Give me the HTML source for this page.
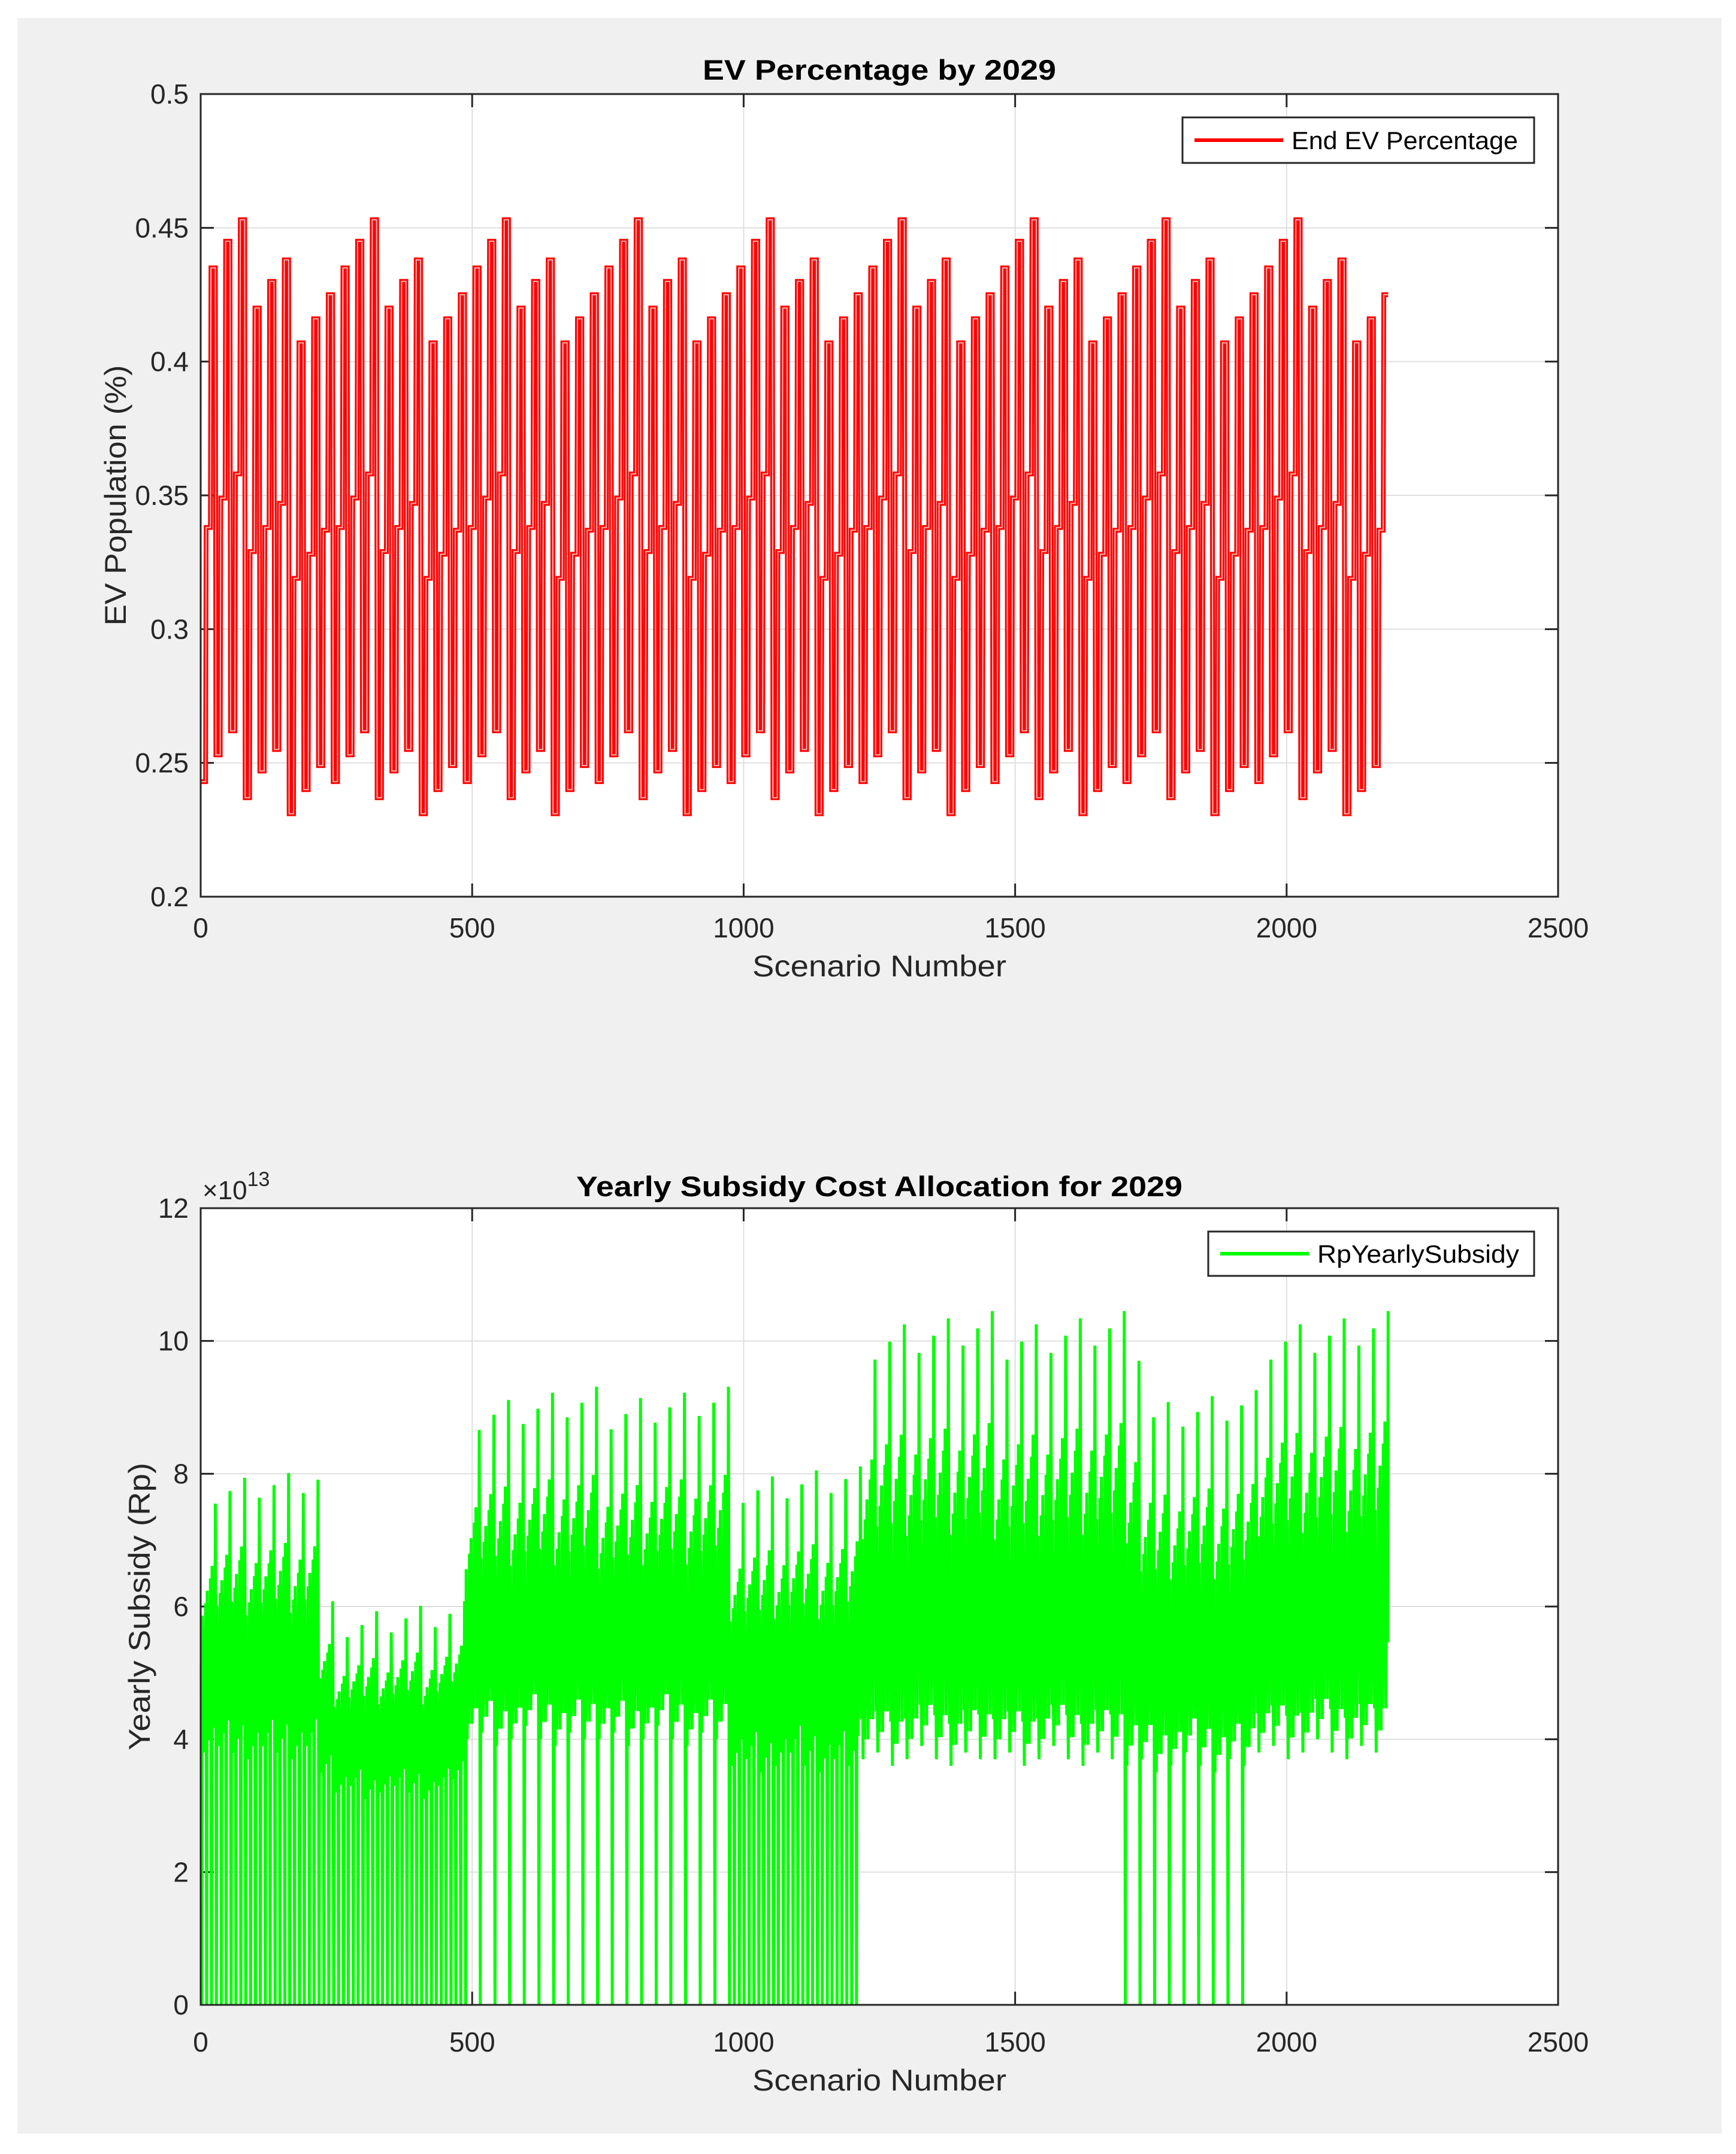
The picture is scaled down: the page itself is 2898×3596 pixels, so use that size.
<!DOCTYPE html>
<html><head><meta charset="utf-8"><style>
html,body{margin:0;padding:0;background:#fff;}
svg{display:block;font-family:"Liberation Sans",Arial,sans-serif;}
</style></head><body>
<svg id="fig" width="2898" height="3596" viewBox="0 0 2898 3596" xmlns="http://www.w3.org/2000/svg">
<rect x="0" y="0" width="2898" height="3596" fill="#ffffff"/>
<rect x="29" y="30" width="2845" height="3532" fill="#f0f0f0"/>
<g id="top"></g>
<g id="bot"></g>
</svg>
<script>
// ---- EV percentage data (one 243-scenario cycle, 27 step levels of 9 scenarios) ----
const evLevels = [0.243,0.338,0.435, 0.253,0.349,0.445, 0.262,0.358,0.453,
                  0.237,0.329,0.420, 0.247,0.338,0.430, 0.255,0.347,0.438,
                  0.231,0.319,0.407, 0.240,0.328,0.416, 0.249,0.337,0.425];
const scenarioCount = 2187;
const xTicks = [0,500,1000,1500,2000,2500];
const evTicks = [0.2,0.25,0.3,0.35,0.4,0.45,0.5];
const evTickLabels = ["0.2","0.25","0.3","0.35","0.4","0.45","0.5"];
// ---- Subsidy data per 27-scenario block (units of 1e13 Rp) ----
const subsidyPeaks = [7.55,7.74,7.94,7.64,7.83,8.01,7.71,7.91,
  6.08,5.54,5.72,5.93,5.61,5.82,6.01,5.69,5.89,6.08,
  8.66,8.89,9.11,8.75,8.98,
  9.22,8.85,9.07,9.31,8.67,8.90,9.14,8.77,9.00,9.22,8.87,9.07,9.31,
  7.56,7.75,7.96,7.63,7.84,8.05,7.71,7.92,8.11,
  9.72,9.99,10.25,9.82,10.08,10.34,9.93,10.19,10.45,
  9.72,9.99,10.25,9.82,10.08,10.34,9.93,10.19,10.45,
  9.70,8.85,9.08,8.71,8.93,9.17,8.80,9.03,9.26,
  9.72,9.99,10.25,9.82,10.08,10.34,9.93,10.19,10.45];
const subsidyLows = [3.8,3.9,3.8,3.7,3.9,3.8,3.7,3.9,3.5,
  3.2,3.3,3.1,3.2,3.3,3.2,3.1,3.3,3.4,
  4.0,4.1,3.9,4.0,4.2,4.0,3.9,4.1,4.0,4.0,4.1,3.9,4.0,4.2,4.0,3.9,4.1,4.0,
  3.6,3.7,3.5,3.6,3.8,3.6,3.5,3.7,3.6,
  3.7,3.8,3.6,3.7,3.9,3.7,3.6,3.8,3.7, 3.7,3.8,3.6,3.7,3.9,3.7,3.6,3.8,3.7,
  3.6,3.7,3.5,3.6,3.8,3.6,3.5,3.7,3.6,
  3.8,3.9,3.7,3.8,4.0,3.8,3.7,3.9,3.8];
const subsidyZeroDips = [3,3,3,3,3,3,3,3,3, 3,3,3,3,3,3,3,3,3,
  1,1,1,1,1,1,1,1,1, 1,1,1,1,1,1,1,1,1,
  3,3,3,3,3,3,3,3,3,
  0,0,0,0,0,0,0,0,0, 0,0,0,0,0,0,0,0,0,
  1,1,1,1,1,1,1,1,1,
  0,0,0,0,0,0,0,0,0];
const subTicks = [0,2,4,6,8,10,12];
const subTickLabels = ["0","2","4","6","8","10","12"];

const NS="http://www.w3.org/2000/svg";
function mk(tag,attrs,parent){const e=document.createElementNS(NS,tag);for(const k in attrs)e.setAttribute(k,attrs[k]);if(parent)parent.appendChild(e);return e;}

function buildAxes(g,box,yMin,yMax,yTicks,yLabels,title,titleW,titleY,ylab,ylabX,ylabW,xlabY,tickY){
  const X=v=>box.l+(v-0)/(2500)*(box.r-box.l);
  const Y=v=>box.b-(v-yMin)/(yMax-yMin)*(box.b-box.t);
  const bg=mk('rect',{x:box.l,y:box.t,width:box.r-box.l,height:box.b-box.t,fill:'#fff'},g);
  
  
  const grid=mk('g',{stroke:'#dfdfdf','stroke-width':2},g);
  
  
  xTicks.forEach(v=>{mk('line',{x1:X(v),x2:X(v),y1:box.t,y2:box.b},grid);});
  yTicks.forEach(v=>{mk('line',{x1:box.l,x2:box.r,y1:Y(v),y2:Y(v)},grid);});
  const tk=mk('g',{stroke:'#262626','stroke-width':3},g);
  xTicks.forEach(v=>{mk('line',{x1:X(v),x2:X(v),y1:box.b,y2:box.b-22},tk);mk('line',{x1:X(v),x2:X(v),y1:box.t,y2:box.t+22},tk);});
  yTicks.forEach(v=>{mk('line',{x1:box.l,x2:box.l+22,y1:Y(v),y2:Y(v)},tk);mk('line',{x1:box.r,x2:box.r-22,y1:Y(v),y2:Y(v)},tk);});
  xTicks.forEach(v=>{const t=mk('text',{x:X(v),y:tickY,'text-anchor':'middle','font-size':46,fill:'#262626'},g);t.textContent=String(v);
    
    });
  yTicks.forEach((v,i)=>{const t=mk('text',{x:box.l-20,y:Y(v)+16,'text-anchor':'end','font-size':46,fill:'#262626'},g);t.textContent=yLabels[i];
    
    });
  const ti=mk('text',{x:(box.l+box.r)/2,y:titleY,'text-anchor':'middle','font-size':47,'font-weight':'bold',fill:'#000',textLength:titleW,lengthAdjust:'spacingAndGlyphs'},g);ti.textContent=title;
  
  
  const xl=mk('text',{x:(box.l+box.r)/2,y:xlabY,'text-anchor':'middle','font-size':50,fill:'#262626',textLength:424,lengthAdjust:'spacingAndGlyphs'},g);xl.textContent='Scenario Number';
  
  
  const cy=(box.t+box.b)/2;
  const yl=mk('text',{x:ylabX,y:cy,'text-anchor':'middle','font-size':50,fill:'#262626',transform:`rotate(-90 ${ylabX} ${cy})`,textLength:ylabW,lengthAdjust:'spacingAndGlyphs'},g);yl.textContent=ylab;
  
  
  return {X,Y};
}
function drawBorder(g,box){
  const b=mk('rect',{x:box.l,y:box.t,width:box.r-box.l,height:box.b-box.t,fill:'none',stroke:'#262626','stroke-width':3},g);
  
  
}
function drawLegend(g,leg,text,color){
  const lg=mk('g',{},g);
  
  
  mk('rect',{x:leg.x,y:leg.y,width:leg.w,height:leg.h,fill:'#fff',stroke:'#262626','stroke-width':3},lg);
  mk('line',{x1:leg.x+20,x2:leg.x+168,y1:leg.y+leg.h/2,y2:leg.y+leg.h/2,stroke:color,'stroke-width':6},lg);
  const t=mk('text',{x:leg.x+182,y:leg.y+leg.h/2+15,'font-size':42,fill:'#000',textLength:leg.tw,lengthAdjust:'spacingAndGlyphs'},lg);t.textContent=text;
  
  
}

// Top chart
const topG=document.getElementById('top');
const tb={l:335,r:2601,t:157,b:1497};
const ta=buildAxes(topG,tb,0.2,0.5,evTicks,evTickLabels,'EV Percentage by 2029',590,133,'EV Population (%)',210,435,1630,1565);
let pts=[];
for(let s=1;s<=scenarioCount;s++){const v=evLevels[Math.floor(((s-1)%243)/9)];pts.push(ta.X(s).toFixed(1)+','+ta.Y(v).toFixed(1));}
const redLine=mk('polyline',{points:pts.join(' '),fill:'none',stroke:'#ff0000','stroke-width':8,'stroke-linejoin':'miter'},topG);


const redInner=mk('polyline',{points:pts.join(' '),fill:'none',stroke:'#ffb0b0','stroke-width':2,'stroke-linejoin':'miter'},topG);


drawBorder(topG,tb);
drawLegend(topG,{x:1974,y:196,w:587,h:76,tw:378},'End EV Percentage','#ff0000');

// Bottom chart
const botG=document.getElementById('bot');
const bb={l:335,r:2601,t:2017,b:3347};
const ba=buildAxes(botG,bb,0,12,subTicks,subTickLabels,'Yearly Subsidy Cost Allocation for 2029',1012,1997,'Yearly Subsidy (Rp)',250,480,3490,3425);
const ex=mk('text',{x:338,y:2002,'font-size':44,fill:'#262626'},botG);


ex.innerHTML='×10<tspan dy="-22" font-size="34">13</tspan>';
// shape of a 27-scenario block (fraction between block low and block peak)
const blockShape=[0.35,0.1,0.55,0.2,0.0,0.45,0.3,0.05,0.6,0.4,0.15,0.65,0.25,0.05,0.5,0.35,0.1,0.7,0.45,0.2,0.75,0.3,0.1,0.6,0.5,0.25,1.0];
const dipIdx={0:[],1:[1],3:[1,10,19]};
let gp=[];
for(let s=1;s<=scenarioCount;s++){
  const k=Math.floor((s-1)/27), i=(s-1)%27;
  const lo=subsidyLows[k], pk=subsidyPeaks[k];
  let v=lo+blockShape[i]*(pk-lo);
  if(dipIdx[subsidyZeroDips[k]].indexOf(i)>=0) v=0;
  gp.push(ba.X(s).toFixed(1)+','+ba.Y(v).toFixed(1));
}
const greenLine=mk('polyline',{points:gp.join(' '),fill:'none',stroke:'#00ff00','stroke-width':5,'stroke-linejoin':'miter'},botG);


drawBorder(botG,bb);
drawLegend(botG,{x:2017,y:2056,w:544,h:74,tw:337},'RpYearlySubsidy','#00ff00');
</script>
</body></html>
